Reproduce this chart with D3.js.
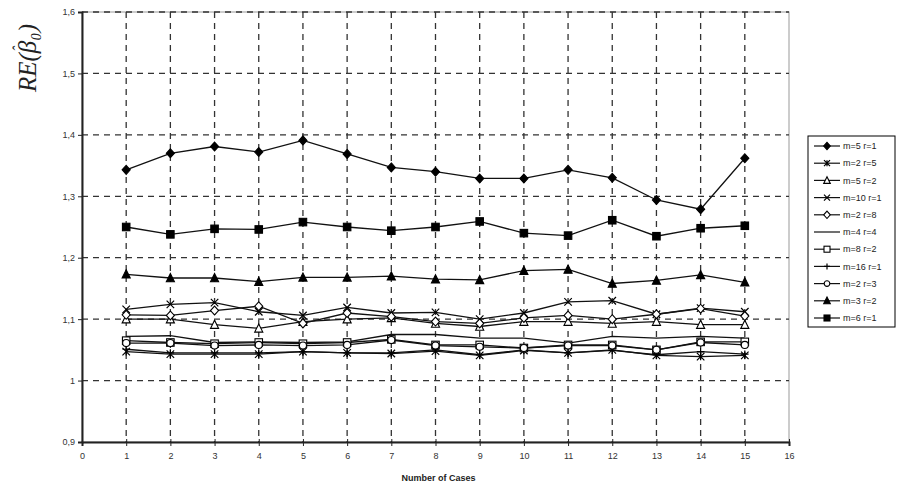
<!DOCTYPE html>
<html>
<head>
<meta charset="utf-8">
<script src="https://cdn.jsdelivr.net/npm/d3@7"></script>
<style>
  body { margin: 0; background: #fff; }
  text { font-family: Arial, "Liberation Sans", sans-serif; }
</style>
</head>
<body>
<div id="chart"></div>
<script>
const cases = [1, 2, 3, 4, 5, 6, 7, 8, 9, 10, 11, 12, 13, 14, 15];
const xTicks = d3.range(0, 17);
const yTicks = [0.9, 1.0, 1.1, 1.2, 1.3, 1.4, 1.5, 1.6];
const yTickLabels = ["0,9", "1", "1,1", "1,2", "1,3", "1,4", "1,5", "1,6"];

const seriesNames = ["m=5 r=1", "m=2 r=5", "m=5 r=2", "m=10 r=1", "m=2 r=8", "m=4 r=4",
                     "m=8 r=2", "m=16 r=1", "m=2 r=3", "m=3 r=2", "m=6 r=1"];
const seriesMarkers = ["diamondFill", "asterisk", "triangleOpen", "cross", "diamondOpen", "none",
                       "squareOpen", "plus", "circleOpen", "triangleFill", "squareFill"];

const m5r1 = [1.343, 1.370, 1.381, 1.372, 1.391, 1.369, 1.347, 1.340, 1.329, 1.329, 1.343, 1.330, 1.294, 1.279, 1.362];
const m2r5 = [1.047, 1.043, 1.043, 1.043, 1.047, 1.045, 1.044, 1.048, 1.041, 1.049, 1.045, 1.050, 1.041, 1.039, 1.041];
const m5r2 = [1.100, 1.100, 1.091, 1.085, 1.096, 1.100, 1.102, 1.093, 1.088, 1.096, 1.096, 1.093, 1.096, 1.091, 1.091];
const m10r1 = [1.116, 1.124, 1.127, 1.112, 1.106, 1.119, 1.110, 1.111, 1.100, 1.110, 1.128, 1.130, 1.108, 1.118, 1.112];
const m2r8 = [1.107, 1.106, 1.114, 1.121, 1.093, 1.110, 1.104, 1.096, 1.093, 1.102, 1.106, 1.100, 1.108, 1.117, 1.105];
const m4r4 = [1.072, 1.073, 1.062, 1.063, 1.062, 1.063, 1.075, 1.075, 1.069, 1.069, 1.061, 1.072, 1.069, 1.072, 1.069];
const m8r2 = [1.065, 1.062, 1.060, 1.062, 1.060, 1.062, 1.067, 1.058, 1.058, 1.053, 1.058, 1.058, 1.050, 1.063, 1.063];
const m16r1 = [1.051, 1.045, 1.045, 1.045, 1.047, 1.045, 1.045, 1.050, 1.042, 1.050, 1.045, 1.049, 1.042, 1.047, 1.043];
const m2r3 = [1.061, 1.061, 1.057, 1.058, 1.057, 1.058, 1.066, 1.057, 1.055, 1.053, 1.057, 1.057, 1.050, 1.062, 1.058];
const m3r2 = [1.173, 1.167, 1.167, 1.161, 1.168, 1.168, 1.170, 1.165, 1.164, 1.179, 1.181, 1.158, 1.163, 1.172, 1.160];
const m6r1 = [1.250, 1.238, 1.247, 1.246, 1.258, 1.250, 1.244, 1.250, 1.259, 1.240, 1.236, 1.261, 1.235, 1.248, 1.252];

const seriesValues = [m5r1, m2r5, m5r2, m10r1, m2r8, m4r4, m8r2, m16r1, m2r3, m3r2, m6r1];

const width = 901, height = 489;
const margin = { top: 12, right: 112, bottom: 47, left: 82 };
const innerW = width - margin.left - margin.right;
const innerH = height - margin.top - margin.bottom;

const svg = d3.select("#chart").append("svg")
    .attr("width", width)
    .attr("height", height);

const g = svg.append("g")
    .attr("transform", `translate(${margin.left},${margin.top})`);

const x = d3.scaleLinear().domain([0, 16]).range([0, innerW]);
const y = d3.scaleLinear().domain([0.9, 1.6]).range([innerH, 0]);

// plot frame (right side light)
g.append("rect")
    .attr("x", 0).attr("y", 0)
    .attr("width", innerW).attr("height", innerH)
    .attr("fill", "none")
    .attr("stroke", "#999")
    .attr("stroke-width", 1);

// dashed grid
g.append("g").selectAll("line")
    .data(yTicks.slice(1))
    .enter().append("line")
    .attr("x1", 0).attr("x2", innerW)
    .attr("y1", d => y(d)).attr("y2", d => y(d))
    .attr("stroke", "#333")
    .attr("stroke-width", 1.3)
    .attr("stroke-dasharray", "6,5");

g.append("g").selectAll("line")
    .data(xTicks.slice(1, 16))
    .enter().append("line")
    .attr("x1", d => x(d)).attr("x2", d => x(d))
    .attr("y1", 0).attr("y2", innerH)
    .attr("stroke", "#333")
    .attr("stroke-width", 1.3)
    .attr("stroke-dasharray", "6,5");

// axes
const yAxis = g.append("g")
    .call(d3.axisLeft(y).tickValues(yTicks).tickSize(4)
        .tickFormat((d, i) => yTickLabels[i]));
yAxis.select(".domain").attr("stroke", "#222").attr("stroke-width", 2);
yAxis.selectAll(".tick line").attr("stroke", "#222");
yAxis.selectAll(".tick text").attr("font-size", 9).attr("fill", "#333")
    .attr("font-family", "Arial, sans-serif").attr("x", -7);

const xAxis = g.append("g")
    .attr("transform", `translate(0,${innerH})`)
    .call(d3.axisBottom(x).tickValues(xTicks).tickSize(4).tickFormat(d3.format("d")));
xAxis.select(".domain").attr("stroke", "#222").attr("stroke-width", 2);
xAxis.selectAll(".tick line").attr("stroke", "#222").attr("y1", -3);
xAxis.selectAll(".tick text").attr("font-size", 9).attr("fill", "#333")
    .attr("font-family", "Arial, sans-serif").attr("y", 11);

// axis titles
svg.append("text")
    .attr("x", margin.left + x(8) + 3)
    .attr("y", 481)
    .attr("text-anchor", "middle")
    .style("font-size", "9px")
    .style("font-weight", "bold")
    .style("fill", "#222")
    .text("Number of Cases");

// y title: RE(beta-hat_0), hat drawn as its own glyph
const yTitle = svg.append("text")
    .attr("transform", "translate(36,58) rotate(-90)")
    .attr("text-anchor", "middle")
    .style("font-family", "'Liberation Serif', 'DejaVu Serif', serif")
    .style("font-style", "italic")
    .style("font-size", "25px")
    .style("fill", "#222");
yTitle.append("tspan").text("RE(");
yTitle.append("tspan").text("\u03B2");
yTitle.append("tspan").attr("dx", -11).attr("dy", -12).style("font-size", "16px").text("\u02C6");
yTitle.append("tspan").attr("dx", 6).attr("dy", 17).style("font-size", "14px").text("0");
yTitle.append("tspan").attr("dx", 1).attr("dy", -5).text(")");

// marker drawing
function drawMarker(sel, type, s) {
    const r = s / 2;
    if (type === "diamondFill" || type === "diamondOpen") {
        sel.append("path")
            .attr("d", `M0,${-r - 0.7}L${r + 0.3},0L0,${r + 0.7}L${-r - 0.3},0Z`)
            .attr("fill", type === "diamondFill" ? "#000" : "#fff")
            .attr("stroke", "#000").attr("stroke-width", 1.1);
    } else if (type === "squareFill" || type === "squareOpen") {
        sel.append("rect")
            .attr("x", -r).attr("y", -r).attr("width", s).attr("height", s)
            .attr("fill", type === "squareFill" ? "#000" : "#fff")
            .attr("stroke", "#000").attr("stroke-width", 1.1);
    } else if (type === "triangleFill" || type === "triangleOpen") {
        sel.append("path")
            .attr("d", `M0,${-r - 0.7}L${r + 0.3},${r}L${-r - 0.3},${r}Z`)
            .attr("fill", type === "triangleFill" ? "#000" : "#fff")
            .attr("stroke", "#000").attr("stroke-width", 1.1);
    } else if (type === "circleOpen") {
        sel.append("circle").attr("r", r - 0.2)
            .attr("fill", "#fff").attr("stroke", "#000").attr("stroke-width", 1.1);
    } else if (type === "cross") {
        sel.append("path")
            .attr("d", `M${-r},${-r}L${r},${r}M${-r},${r}L${r},${-r}`)
            .attr("stroke", "#000").attr("stroke-width", 1.2);
    } else if (type === "plus") {
        sel.append("path")
            .attr("d", `M${-r},0L${r},0M0,${-r}L0,${r}`)
            .attr("stroke", "#000").attr("stroke-width", 1.2);
    } else if (type === "asterisk") {
        sel.append("path")
            .attr("d", `M${-r},${-r}L${r},${r}M${-r},${r}L${r},${-r}M0,${-r}L0,${r}`)
            .attr("stroke", "#000").attr("stroke-width", 1.2);
    }
}

const line = d3.line()
    .x((d, i) => x(cases[i]))
    .y(d => y(d));

// draw series
seriesValues.forEach((vals, k) => {
    g.append("path")
        .datum(vals)
        .attr("fill", "none")
        .attr("stroke", "#111")
        .attr("stroke-width", 1.3)
        .attr("d", line);
    vals.forEach((v, i) => {
        const m = g.append("g").attr("transform", `translate(${x(cases[i])},${y(v)})`);
        drawMarker(m, seriesMarkers[k], 7.5);
    });
});

// handmade legend
const legend = svg.append("g").attr("transform", "translate(808,136)");
legend.append("rect")
    .attr("width", 87).attr("height", 191)
    .attr("fill", "#fff").attr("stroke", "#000").attr("stroke-width", 1);

seriesNames.forEach((name, k) => {
    const ly = 10 + k * 17.2;
    legend.append("line")
        .attr("x1", 6).attr("x2", 32).attr("y1", ly).attr("y2", ly)
        .attr("stroke", "#111").attr("stroke-width", 1.2);
    drawMarker(legend.append("g").attr("transform", `translate(19,${ly})`), seriesMarkers[k], 6);
    legend.append("text")
        .attr("x", 35).attr("y", ly)
        .attr("dy", "0.35em")
        .style("font-size", "9px")
        .style("fill", "#222")
        .text(name);
});
</script>
</body>
</html>
